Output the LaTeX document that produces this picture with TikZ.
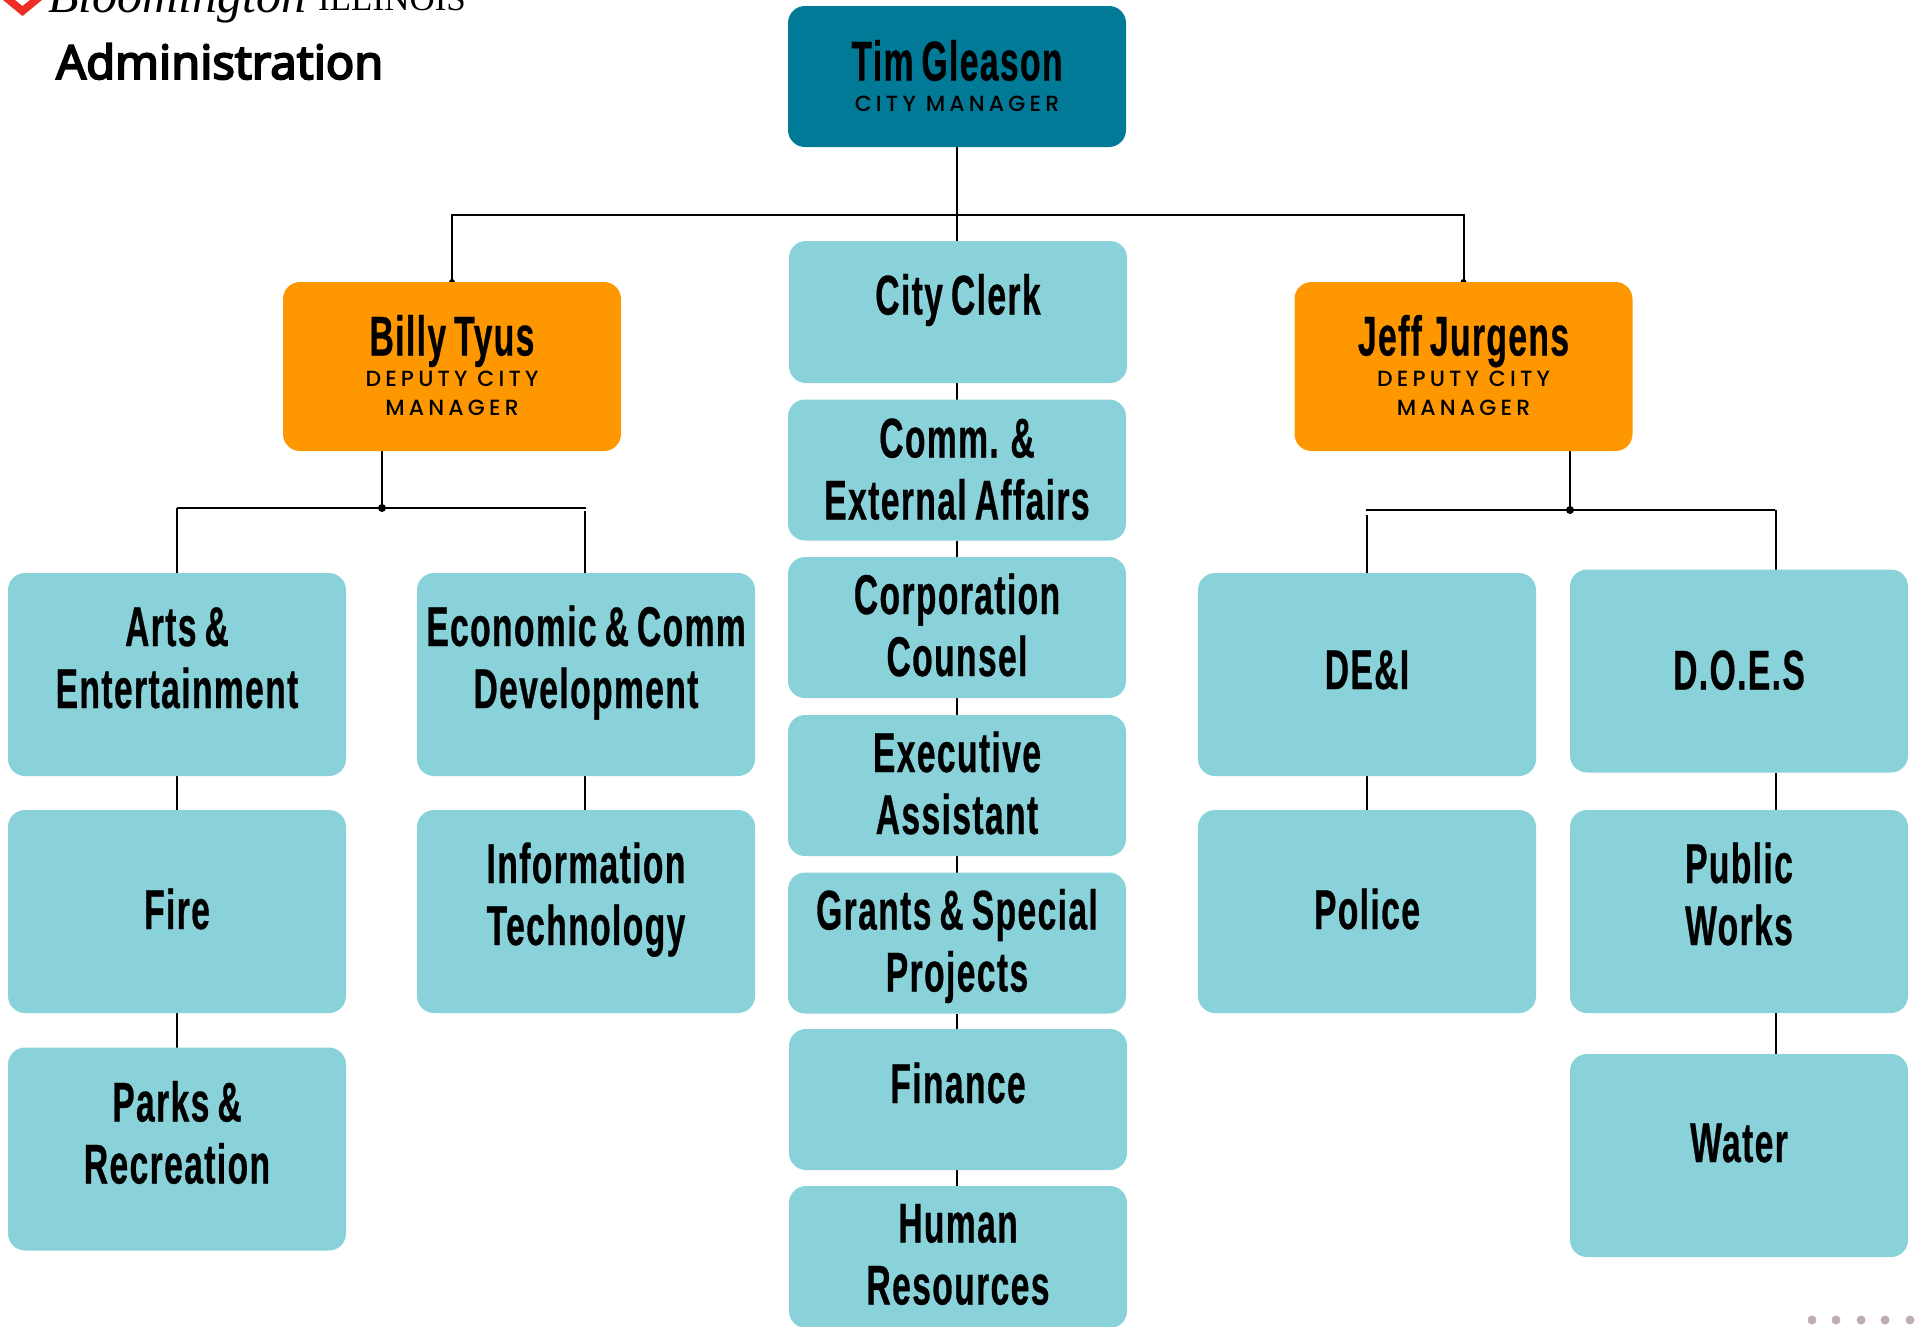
\documentclass[tikz,border=0pt]{standalone}
\usepackage{fontspec}
\usetikzlibrary{backgrounds}
\newfontfamily\namefont[FakeStretch=0.6,FakeBold=0.5,LetterSpace=2.5,WordSpace=0.75]{Liberation Sans Bold}
\newfontfamily\subfont[LetterSpace=19]{Poppins Medium}
\newfontfamily\headfont[FakeBold=4]{Noto Sans}
\newfontfamily\logofont{Liberation Serif}
\definecolor{mgr}{RGB}{0,122,150}
\definecolor{deputy}{RGB}{255,152,0}
\definecolor{dept}{RGB}{137,210,218}
\definecolor{pager}{RGB}{189,175,173}
\definecolor{logored}{RGB}{238,45,36}
\newcommand\boxtext[2]{\raisebox{\dimexpr 1.5pt-#1pt\relax}[0pt][0pt]{\parbox[t]{336pt}{\centering\lineskiplimit=-200pt\lineskip=0pt #2\par}}}
\newcommand\nm{\fontsize{56}{62}\namefont}
\newcommand\subl{\vskip2pt\fontsize{22}{29}\subfont}
\tikzset{
 base/.style={inner sep=0pt,outer sep=0pt,rounded corners=17pt,minimum width=338pt},
 chief/.style={base,fill=mgr},
 deputybox/.style={base,fill=deputy},
 deptbox/.style={base,fill=dept},
 link/.style={line width=2pt,black},
 jdot/.style={circle,fill=black,inner sep=0pt,minimum size=8pt},
 pagedot/.style={circle,fill=pager,inner sep=0pt,minimum size=9pt},
}
\begin{document}
\begin{tikzpicture}[x=1pt,y=-1pt]
\useasboundingbox (0,0) rectangle (1917,1326);
% logo
\fill[logored] (3,0) -- (22.5,16) -- (42,0) -- (30,0) -- (22.5,6) -- (15,0) -- cycle;
\node[anchor=base west,inner sep=0pt] (logoname) at (48,12) {\fontsize{50}{50}\logofont\itshape Bloomington};
\node[anchor=base west,inner sep=0pt] (logostate) at (318,10) {\fontsize{35}{35}\addfontfeature{LetterSpace=7}\logofont ILLINOIS};
\node[anchor=base west,inner sep=0pt] (title) at (56,79) {\fontsize{47}{50}\headfont Administration};
% boxes
\node[chief,minimum height=141pt] (tim) at (957,76.5) {\boxtext{5.5}{{\nm Tim Gleason\par}{\subl CITY MANAGER\par}}};
\node[deputybox,minimum height=169pt] (billy) at (452,366.5) {\boxtext{-9.5}{{\nm Billy Tyus\par}{\subl DEPUTY CITY\par MANAGER\par}}};
\node[deputybox,minimum height=169pt] (jeff) at (1463.5,366.5) {\boxtext{-9.5}{{\nm Jeff Jurgens\par}{\subl DEPUTY CITY\par MANAGER\par}}};
% centre column
\node[deptbox,minimum height=142pt] (clerk) at (958,312) {\boxtext{4}{\nm City Clerk}};
\node[deptbox,minimum height=141pt] (comm) at (957,470) {\boxtext{-11}{\nm Comm. \&\par External Affairs}};
\node[deptbox,minimum height=141pt] (corp) at (957,627.5) {\boxtext{-12}{\nm Corporation\par Counsel}};
\node[deptbox,minimum height=141pt] (exec) at (957,785.5) {\boxtext{-12}{\nm Executive\par Assistant}};
\node[deptbox,minimum height=141pt] (grants) at (957,943) {\boxtext{-12}{\nm Grants \& Special\par Projects}};
\node[deptbox,minimum height=141pt] (finance) at (958,1099.5) {\boxtext{5}{\nm Finance}};
\node[deptbox,minimum height=142pt] (hr) at (958,1257) {\boxtext{-13}{\nm Human\par Resources}};
% left
\node[deptbox,minimum height=203pt] (arts) at (177,674.5) {\boxtext{-27}{\nm Arts \&\par Entertainment}};
\node[deptbox,minimum height=203pt] (fire) at (177,911.5) {\boxtext{19}{\nm Fire}};
\node[deptbox,minimum height=203pt] (parks) at (177,1149) {\boxtext{-26}{\nm Parks \&\par Recreation}};
\node[deptbox,minimum height=203pt] (econ) at (586,674.5) {\boxtext{-27}{\nm Economic \& Comm\par Development}};
\node[deptbox,minimum height=203pt] (it) at (586,911.5) {\boxtext{-27}{\nm Information\par Technology}};
% right
\node[deptbox,minimum height=203pt] (dei) at (1367,674.5) {\boxtext{16}{\nm DE\&I}};
\node[deptbox,minimum height=203pt] (police) at (1367,911.5) {\boxtext{19}{\nm Police}};
\node[deptbox,minimum height=203pt] (does) at (1739,671) {\boxtext{20}{\nm D.O.E.S}};
\node[deptbox,minimum height=203pt] (works) at (1739,911.5) {\boxtext{-27}{\nm Public\par Works}};
\node[deptbox,minimum height=203pt] (water) at (1739,1155.5) {\boxtext{8}{\nm Water}};
% pager
\node[pagedot] (p1) at (1812,1320) {};
\node[pagedot] (p2) at (1836,1320) {};
\node[pagedot] (p3) at (1861,1320) {};
\node[pagedot] (p4) at (1885,1320) {};
\node[pagedot] (p5) at (1910,1320) {};
% connectors
\coordinate (top) at (957,215);
\coordinate (jb) at (382,508);
\coordinate (jj) at (1570,510);
\coordinate (bl) at (177,508);
\coordinate (br) at (586,508);
\coordinate (brv) at (585,511);
\coordinate (jl) at (1366,510);
\coordinate (jr) at (1775,510);
\coordinate (jrv) at (1776,510);
\begin{pgfonlayer}{background}
\draw[link] (tim.south) -- (top);
\draw[link] (billy.north) |- (top) -| (jeff.north);
\draw[link] (top) -- (top |- clerk.north);
\foreach \a/\b in {clerk/comm,comm/corp,corp/exec,exec/grants,grants/finance,finance/hr}
  \draw[link] (top |- \a.south) -- (top |- \b.north);
\node[jdot,minimum size=6pt] (dotb) at (billy.north) {};
\node[jdot,minimum size=6pt] (dotj) at (jeff.north) {};
\draw[link] (jb |- billy.south) -- (jb);
\draw[link] (bl) -- (br);
\draw[link] (bl) -- (arts.north);
\draw[link] (brv) -- (brv |- econ.north);
\draw[link] (arts.south) -- (fire.north);
\draw[link] (fire.south) -- (parks.north);
\draw[link] (brv |- econ.south) -- (brv |- it.north);
\draw[link] (jj |- jeff.south) -- (jj);
\draw[link] (jl) -- (jr);
\draw[link] (dei.north |- 0,515) -- (dei.north);
\draw[link] (jrv) -- (jrv |- does.north);
\draw[link] (dei.south) -- (police.north);
\draw[link] (jrv |- does.south) -- (jrv |- works.north);
\draw[link] (jrv |- works.south) -- (jrv |- water.north);
\end{pgfonlayer}
\node[jdot] (dotjb) at (jb) {};
\node[jdot] (dotjj) at (jj) {};
\end{tikzpicture}
\end{document}
